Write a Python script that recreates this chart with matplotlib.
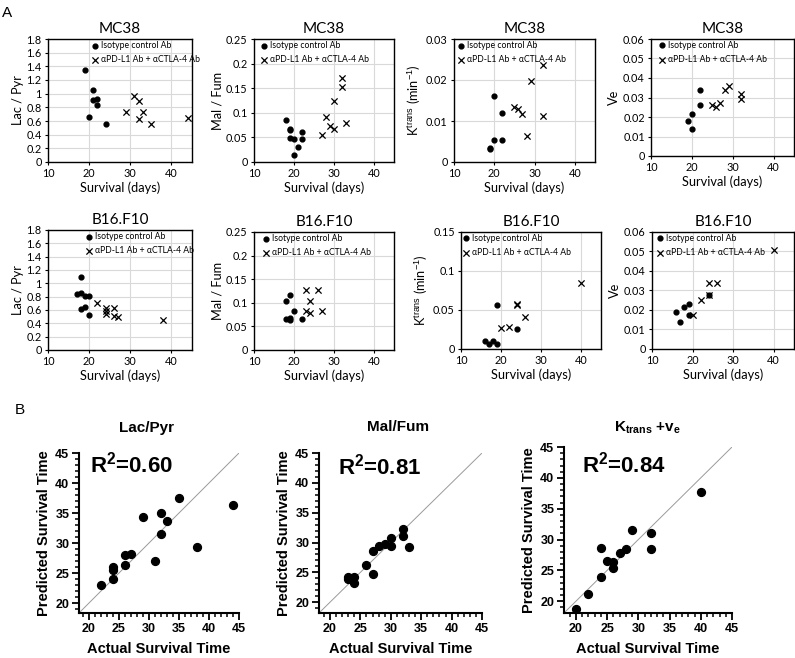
import numpy as np
import matplotlib
matplotlib.use("Agg")
import matplotlib.pyplot as plt
from matplotlib.ticker import MultipleLocator

plt.rcParams['font.family'] = ['Lato', 'DejaVu Sans']
plt.rcParams['mathtext.fontset'] = 'custom'
plt.rcParams['mathtext.rm'] = 'Liberation Sans'
plt.rcParams['mathtext.bf'] = 'Liberation Sans:bold'

# ---- data: MC38 (row 1) ----
mc38_lacpyr_ctrl_x = [19, 21, 21, 22, 22, 20, 24]
mc38_lacpyr_ctrl_y = [1.34, 1.06, 0.91, 0.92, 0.83, 0.66, 0.56]
mc38_lacpyr_trt_x = [29, 31, 32, 32, 33, 35, 44]
mc38_lacpyr_trt_y = [0.73, 0.96, 0.89, 0.63, 0.73, 0.55, 0.64]

mc38_malfum_ctrl_x = [18, 19, 19, 19, 20, 20, 21, 22, 22]
mc38_malfum_ctrl_y = [0.086, 0.068, 0.065, 0.049, 0.046, 0.014, 0.031, 0.061, 0.046]
mc38_malfum_trt_x = [27, 28, 29, 30, 30, 32, 32, 33]
mc38_malfum_trt_y = [0.055, 0.091, 0.073, 0.068, 0.125, 0.170, 0.152, 0.080]

mc38_ktrans_ctrl_x = [20, 22, 20, 22, 19, 19]
mc38_ktrans_ctrl_y = [0.0161, 0.0120, 0.0053, 0.0053, 0.0035, 0.0032]
mc38_ktrans_trt_x = [25, 26, 27, 28, 29, 32, 32]
mc38_ktrans_trt_y = [0.0133, 0.0129, 0.0117, 0.0063, 0.0198, 0.0112, 0.0237]

mc38_ve_ctrl_x = [19, 20, 20, 22, 22]
mc38_ve_ctrl_y = [0.0180, 0.0216, 0.0139, 0.0337, 0.0259]
mc38_ve_trt_x = [25, 26, 27, 28, 29, 32, 32]
mc38_ve_trt_y = [0.0259, 0.0252, 0.0273, 0.0337, 0.0361, 0.0318, 0.0290]

# ---- data: B16.F10 (row 2) ----
b16_lacpyr_ctrl_x = [18, 17, 18, 19, 20, 18, 19, 20]
b16_lacpyr_ctrl_y = [1.09, 0.84, 0.855, 0.815, 0.81, 0.62, 0.64, 0.525]
b16_lacpyr_trt_x = [22, 24, 24, 24, 26, 26, 27, 38]
b16_lacpyr_trt_y = [0.70, 0.625, 0.59, 0.54, 0.625, 0.515, 0.50, 0.45]

b16_malfum_ctrl_x = [18, 19, 18, 19, 19, 20, 22]
b16_malfum_ctrl_y = [0.103, 0.116, 0.065, 0.068, 0.064, 0.083, 0.066]
b16_malfum_trt_x = [23, 23, 24, 24, 26, 27]
b16_malfum_trt_y = [0.128, 0.083, 0.104, 0.078, 0.128, 0.083]

b16_ktrans_ctrl_x = [16, 17, 18, 19, 19, 24]
b16_ktrans_ctrl_y = [0.0106, 0.0068, 0.0102, 0.0060, 0.0560, 0.0250]
b16_ktrans_trt_x = [20, 22, 24, 24, 26, 40]
b16_ktrans_trt_y = [0.0264, 0.0276, 0.0574, 0.0565, 0.0408, 0.0841]

b16_ve_ctrl_x = [16, 17, 18, 19, 19, 24]
b16_ve_ctrl_y = [0.0189, 0.0138, 0.0217, 0.0231, 0.0175, 0.0275]
b16_ve_trt_x = [20, 22, 24, 24, 26, 40]
b16_ve_trt_y = [0.0172, 0.0253, 0.0277, 0.0338, 0.0338, 0.0508]

# ---- data: model predictions (row 3) ----
lacpyr_actual = [22, 24, 24, 24, 26, 26, 27, 29, 31, 32, 32, 33, 35, 38, 44]
lacpyr_pred = [23.1, 24.1, 25.5, 26.1, 26.3, 28.1, 28.2, 34.3, 27.1, 31.6, 35.0, 33.7, 37.6, 29.4, 36.4]
malfum_actual = [23, 23, 24, 24, 26, 27, 27, 28, 29, 30, 30, 32, 32, 33]
malfum_pred = [24.3, 23.9, 24.3, 23.2, 26.2, 28.6, 24.8, 29.4, 29.8, 30.8, 29.4, 32.2, 31.1, 29.3]
kve_actual = [20, 22, 24, 24, 25, 26, 26, 27, 28, 29, 32, 32, 40]
kve_pred = [18.8, 21.2, 24.0, 28.6, 26.5, 26.3, 25.4, 27.9, 28.5, 31.5, 31.1, 28.5, 37.7]

ctrl_label = 'Isotype control Ab'
trt_label = 'αPD-L1 Ab + αCTLA-4 Ab'

W, H = 795, 658
fig = plt.figure(figsize=(W / 100, H / 100), dpi=100)


def px_axes(l, r, t, b):
    return fig.add_axes([l / W, 1 - b / H, (r - l) / W, (b - t) / H])


def top_panel(box, title, ylabel, xlabel, ytop, ystep, cx, cy, tx, ty, leg_x):
    ax = px_axes(*box)
    ax.scatter(cx, cy, s=12, c='black', marker='o', label=ctrl_label, zorder=3)
    ax.scatter(tx, ty, s=20, c='black', marker='x', linewidths=0.9,
               label=trt_label, zorder=3)
    ax.set_xlim(10, 45)
    ax.set_xticks([10, 20, 30, 40])
    ax.set_ylim(0, ytop)
    yt = np.arange(0, ytop + ystep / 2, ystep)
    ax.set_yticks(yt)
    ax.set_yticklabels(['{:g}'.format(round(v, 4)) for v in yt])
    ax.grid(True, color='#d9d9d9', lw=0.8)
    ax.set_axisbelow(True)
    for s in ax.spines.values():
        s.set_color('black')
        s.set_linewidth(1.0)
    ax.tick_params(labelsize=7.8, length=2.5, width=0.8, pad=2)
    ax.set_title(title, fontsize=11, pad=4)
    ax.set_xlabel(xlabel, fontsize=9.2, labelpad=1.5)
    ax.set_ylabel(ylabel, fontsize=9.2, labelpad=2)
    ax.legend(loc='upper left', bbox_to_anchor=(leg_x, 0.985), frameon=False,
              fontsize=6.2, handlelength=0.8, handletextpad=0.3,
              borderpad=0, borderaxespad=0, labelspacing=0.6)
    return ax


ktrans_lab = 'K$^{\\mathrm{trans}}$ (min$^{-1}$)'

top_panel((48, 192, 39, 162), 'MC38', 'Lac / Pyr', 'Survival (days)', 1.8, 0.2,
          mc38_lacpyr_ctrl_x, mc38_lacpyr_ctrl_y, mc38_lacpyr_trt_x, mc38_lacpyr_trt_y, 0.30)
top_panel((254, 394, 39, 162), 'MC38', 'Mal / Fum', 'Survival (days)', 0.25, 0.05,
          mc38_malfum_ctrl_x, mc38_malfum_ctrl_y, mc38_malfum_trt_x, mc38_malfum_trt_y, 0.045)
top_panel((454, 595, 39, 162), 'MC38', ktrans_lab, 'Survival (days)', 0.03, 0.01,
          mc38_ktrans_ctrl_x, mc38_ktrans_ctrl_y, mc38_ktrans_trt_x, mc38_ktrans_trt_y, 0.025)
top_panel((651, 794, 39, 156), 'MC38', 'Ve', 'Survival (days)', 0.06, 0.01,
          mc38_ve_ctrl_x, mc38_ve_ctrl_y, mc38_ve_trt_x, mc38_ve_trt_y, 0.055)

top_panel((48, 192, 230, 350), 'B16.F10', 'Lac / Pyr', 'Survival (days)', 1.8, 0.2,
          b16_lacpyr_ctrl_x, b16_lacpyr_ctrl_y, b16_lacpyr_trt_x, b16_lacpyr_trt_y, 0.26)
top_panel((254, 394, 232, 350), 'B16.F10', 'Mal / Fum', 'Surviavl (days)', 0.25, 0.05,
          b16_malfum_ctrl_x, b16_malfum_ctrl_y, b16_malfum_trt_x, b16_malfum_trt_y, 0.06)
top_panel((461, 601, 232, 349), 'B16.F10', ktrans_lab, 'Survival (days)', 0.15, 0.05,
          b16_ktrans_ctrl_x, b16_ktrans_ctrl_y, b16_ktrans_trt_x, b16_ktrans_trt_y, 0.01)
top_panel((652, 794, 232, 349), 'B16.F10', 'Ve', 'Survival (days)', 0.06, 0.01,
          b16_ve_ctrl_x, b16_ve_ctrl_y, b16_ve_trt_x, b16_ve_trt_y, 0.035)


def bottom_panel(box, actual, pred, lo):
    ax = px_axes(*box)
    ax.plot([lo, 45], [lo, 45], color='#9a9a9a', lw=0.7, zorder=1)
    ax.scatter(actual, pred, s=32, c='black', zorder=3)
    ax.set_xlim(lo, 45)
    ax.set_ylim(lo, 45)
    ax.set_xticks([20, 25, 30, 35, 40, 45])
    ax.set_yticks([20, 25, 30, 35, 40, 45])
    ax.xaxis.set_minor_locator(MultipleLocator(1))
    ax.yaxis.set_minor_locator(MultipleLocator(1))
    for side in ['top', 'right']:
        ax.spines[side].set_visible(False)
    for side in ['left', 'bottom']:
        ax.spines[side].set_linewidth(1.5)
    ax.tick_params(which='major', length=5, width=1.3, labelsize=9, pad=2)
    ax.tick_params(which='minor', length=2.8, width=1.1)
    for lab in ax.get_xticklabels() + ax.get_yticklabels():
        lab.set_fontfamily('Liberation Sans')
        lab.set_fontweight('bold')
    ax.set_xlabel('Actual Survival Time', fontsize=10.5, fontweight='bold',
                  family='Liberation Sans', labelpad=5)
    ax.set_ylabel('Predicted Survival Time', fontsize=10.5, fontweight='bold',
                  family='Liberation Sans', labelpad=3)
    return ax


bottom_panel((79, 239, 453, 613), lacpyr_actual, lacpyr_pred, 18.4)
bottom_panel((319, 482, 453, 613), malfum_actual, malfum_pred, 18.2)
bottom_panel((564, 732, 447, 613), kve_actual, kve_pred, 18.1)

bold = dict(fontweight='bold', family='Liberation Sans')
fig.text(147 / W, 1 - 428 / H, 'Lac/Pyr', ha='center', va='center', fontsize=11, **bold)
fig.text(398 / W, 1 - 427 / H, 'Mal/Fum', ha='center', va='center', fontsize=11, **bold)
fig.text(648 / W, 1 - 428 / H, r'K$_{\mathbf{trans}}$ +v$_{\mathbf{e}}$', ha='center',
         va='center', fontsize=11, **bold)

fig.text(90 / W, 1 - 465 / H, r'R$^{\mathbf{2}}$=0.60', ha='left', va='center', fontsize=16, **bold)
fig.text(338 / W, 1 - 467 / H, r'R$^{\mathbf{2}}$=0.81', ha='left', va='center', fontsize=16, **bold)
fig.text(582 / W, 1 - 465 / H, r'R$^{\mathbf{2}}$=0.84', ha='left', va='center', fontsize=16, **bold)

fig.text(7 / W, 1 - 13 / H, 'A', ha='center', va='center', fontsize=11, family='Liberation Sans')
fig.text(20 / W, 1 - 410 / H, 'B', ha='center', va='center', fontsize=11, family='Liberation Sans')

fig.savefig('out.png', dpi=100)
